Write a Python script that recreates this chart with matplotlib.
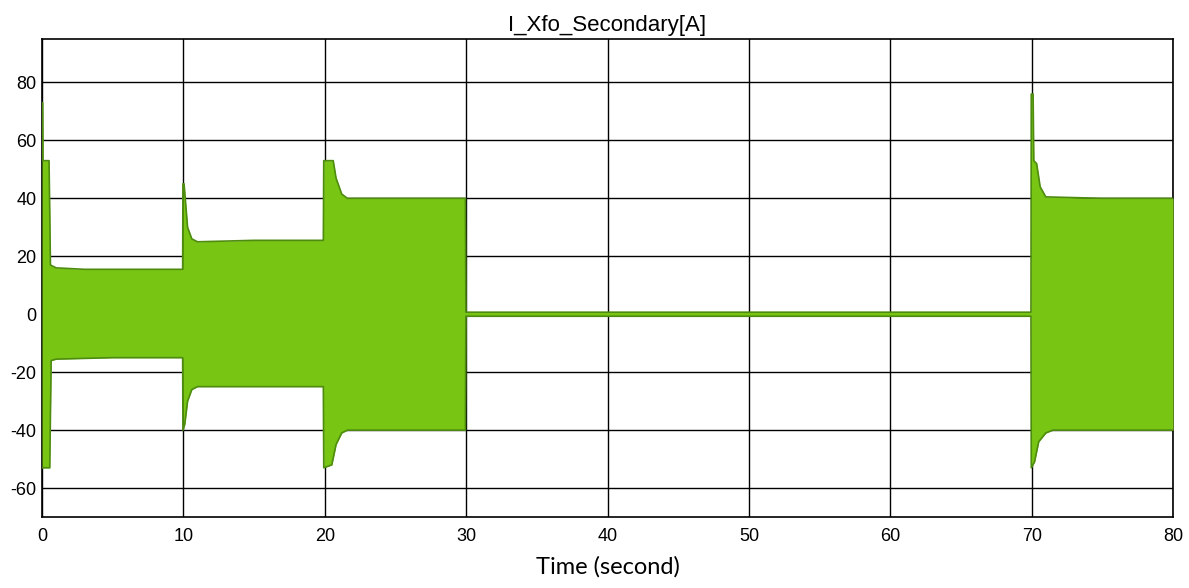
import numpy as np
import matplotlib.pyplot as plt

plt.rcParams['axes.unicode_minus'] = False

# envelope of the secondary current (upper / lower peaks)
t_up = [0, 0.05, 0.07, 0.5, 0.6, 1.0, 3, 6, 9.95, 9.97, 10.05, 10.3, 10.6, 11, 15,
        19.9, 19.93, 20.6, 20.8, 21.2, 21.6, 25, 29.95, 29.98, 69.95, 69.97,
        70.1, 70.15, 70.35, 70.6, 71.0, 75, 80]
i_up = [73, 73, 53, 53, 17, 16, 15.5, 15.5, 15.5, 45, 45, 30, 26, 25, 25.5,
        25.5, 53, 53, 47, 41.5, 40, 40, 40, 0.7, 0.7, 76,
        76, 53, 52, 44, 40.5, 40, 40]

t_lo = [0, 0.55, 0.65, 1.0, 5, 9.95, 9.97, 10.1, 10.3, 10.6, 11, 15, 19.9, 19.93,
        20.5, 20.8, 21.2, 21.6, 25, 29.95, 29.98, 69.95, 69.97, 70.2, 70.5,
        71.0, 71.5, 75, 80]
i_lo = [-53, -53, -16, -15.5, -15, -15, -40, -38, -30, -26, -25, -25, -25, -53,
        -52, -45, -41, -40, -40, -40, -0.7, -0.7, -53, -51, -44,
        -41, -40, -40, -40]

xticks = [0, 10, 20, 30, 40, 50, 60, 70, 80]
yticks = [-60, -40, -20, 0, 20, 40, 60, 80]

fig = plt.figure(figsize=(11.89, 5.88), dpi=100)
ax = fig.add_axes([0.0353, 0.1207, 0.9513, 0.813])

# merge both envelopes onto one time base for fill_between
t_all = np.union1d(t_up, t_lo)
up = np.interp(t_all, t_up, i_up)
lo = np.interp(t_all, t_lo, i_lo)
ax.fill_between(t_all, lo, up, color='#78c514', linewidth=0, zorder=3)
ax.plot(t_up, i_up, color='#4e8c10', lw=1.2, zorder=4)
ax.plot(t_lo, i_lo, color='#4e8c10', lw=1.2, zorder=4)

ax.set_xlim(0, 80)
ax.set_ylim(-70, 95)
ax.set_xticks(xticks)
ax.set_yticks(yticks)
ax.grid(True, color='black', lw=1)
ax.set_axisbelow(True)
ax.tick_params(length=0, labelsize=13)
ax.tick_params(axis='x', pad=8)
ax.tick_params(axis='y', pad=4)
for lab in ax.get_xticklabels() + ax.get_yticklabels():
    lab.set_family('Liberation Sans')
for s in ax.spines.values():
    s.set_color('black')
    s.set_linewidth(1.2)

ax.set_title('I_Xfo_Secondary[A]', family='Liberation Sans', fontsize=16, pad=6)
ax.set_xlabel('Time (second)', family='Lato', fontsize=17, labelpad=8)

fig.savefig('out.png', dpi=100)
